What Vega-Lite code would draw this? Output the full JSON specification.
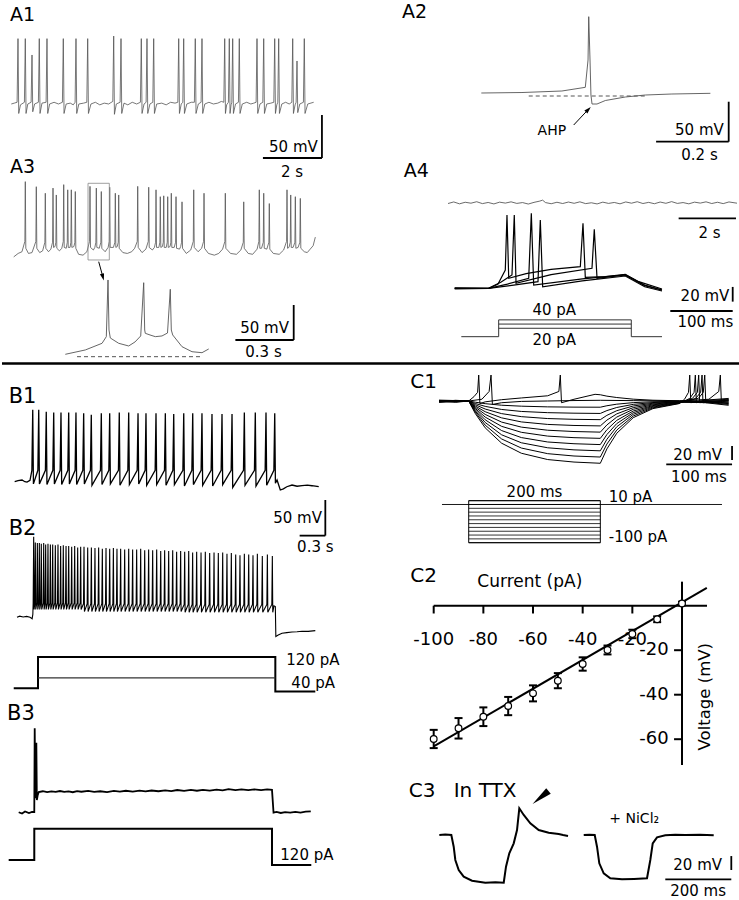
{
"$schema": "https://vega.github.io/schema/vega-lite/v6.json",
"padding": 0, "spacing": 0, "background": "white",
"config": {"view": {"stroke": null}, "axis": {"disable": true}, "text": {"font": "DejaVu Sans", "fontSize": 15, "color": "black", "baseline": "alphabetic"}, "rule": {"color": "black", "strokeWidth": 1.8}, "line": {"color": "black"}},
"vconcat": [
{"hconcat": [
 {"vconcat": [
  {"width": 369, "height": 178, "data": {"values": [{}]}, "layer": [
   {"data": {"values": [{"t":0,"v":-55},{"t":0.1,"v":-54},{"t":0.197,"v":-53},{"t":0.227,"v":21},{"t":0.252,"v":-66},{"t":0.31,"v":-56},{"t":0.445,"v":-53},{"t":0.475,"v":21},{"t":0.5,"v":-66},{"t":0.56,"v":-55},{"t":0.672,"v":-53},{"t":0.702,"v":2},{"t":0.727,"v":-64},{"t":0.79,"v":-55},{"t":0.919,"v":-53},{"t":0.949,"v":21},{"t":0.974,"v":-66},{"t":1.04,"v":-54},{"t":1.18,"v":-53},{"t":1.21,"v":21},{"t":1.235,"v":-66},{"t":1.3,"v":-55},{"t":1.45,"v":-53},{"t":1.6,"v":-55},{"t":1.733,"v":-53},{"t":1.763,"v":21},{"t":1.788,"v":-66},{"t":1.86,"v":-55},{"t":2.0,"v":-54},{"t":2.1,"v":-56},{"t":2.163,"v":-53},{"t":2.193,"v":21},{"t":2.218,"v":-66},{"t":2.29,"v":-55},{"t":2.45,"v":-54},{"t":2.56,"v":-53},{"t":2.59,"v":21},{"t":2.615,"v":-66},{"t":2.7,"v":-55},{"t":2.85,"v":-53},{"t":3.0,"v":-56},{"t":3.15,"v":-54},{"t":3.3,"v":-55},{"t":3.441,"v":-52},{"t":3.471,"v":24},{"t":3.496,"v":-67},{"t":3.56,"v":-55},{"t":3.689,"v":-53},{"t":3.719,"v":21},{"t":3.744,"v":-66},{"t":3.82,"v":-54},{"t":3.95,"v":-56},{"t":4.1,"v":-53},{"t":4.25,"v":-55},{"t":4.377,"v":-53},{"t":4.407,"v":21},{"t":4.432,"v":-66},{"t":4.5,"v":-55},{"t":4.57,"v":-53},{"t":4.6,"v":21},{"t":4.625,"v":-66},{"t":4.7,"v":-55},{"t":4.797,"v":-53},{"t":4.827,"v":21},{"t":4.852,"v":-66},{"t":4.93,"v":-55},{"t":5.1,"v":-54},{"t":5.25,"v":-56},{"t":5.4,"v":-53},{"t":5.55,"v":-54},{"t":5.645,"v":-53},{"t":5.675,"v":21},{"t":5.7,"v":-66},{"t":5.76,"v":-55},{"t":5.814,"v":-53},{"t":5.844,"v":21},{"t":5.869,"v":-66},{"t":5.95,"v":-55},{"t":6.1,"v":-53},{"t":6.207,"v":-53},{"t":6.237,"v":21},{"t":6.262,"v":-66},{"t":6.34,"v":-55},{"t":6.434,"v":-53},{"t":6.464,"v":21},{"t":6.489,"v":-66},{"t":6.56,"v":-55},{"t":6.7,"v":-53},{"t":6.85,"v":-55},{"t":7.0,"v":-54},{"t":7.12,"v":-52},{"t":7.204,"v":-53},{"t":7.234,"v":21},{"t":7.259,"v":-66},{"t":7.3,"v":-56},{"t":7.36,"v":-53},{"t":7.39,"v":21},{"t":7.415,"v":-66},{"t":7.45,"v":-56},{"t":7.475,"v":-53},{"t":7.505,"v":21},{"t":7.53,"v":-66},{"t":7.6,"v":-55},{"t":7.699,"v":-53},{"t":7.729,"v":21},{"t":7.754,"v":-66},{"t":7.83,"v":-55},{"t":7.98,"v":-53},{"t":8.12,"v":-55},{"t":8.22,"v":-54},{"t":8.299,"v":-53},{"t":8.329,"v":21},{"t":8.354,"v":-66},{"t":8.43,"v":-55},{"t":8.526,"v":-53},{"t":8.556,"v":21},{"t":8.581,"v":-66},{"t":8.66,"v":-55},{"t":8.8,"v":-54},{"t":8.899,"v":-53},{"t":8.929,"v":21},{"t":8.954,"v":-66},{"t":9.0,"v":-56},{"t":9.034,"v":-53},{"t":9.064,"v":21},{"t":9.089,"v":-66},{"t":9.17,"v":-55},{"t":9.3,"v":-53},{"t":9.42,"v":-55},{"t":9.509,"v":-53},{"t":9.539,"v":21},{"t":9.564,"v":-66},{"t":9.62,"v":-56},{"t":9.655,"v":-53},{"t":9.685,"v":-5},{"t":9.71,"v":-65},{"t":9.78,"v":-55},{"t":9.902,"v":-53},{"t":9.932,"v":21},{"t":9.957,"v":-66},{"t":10.05,"v":-55},{"t":10.25,"v":-53}]},
    "mark": {"type": "line", "color": "#555", "strokeWidth": 0.8},
    "encoding": {"x": {"field": "t", "type": "quantitative", "scale": {"domain": [-0.315, 12.193], "nice": false, "zero": false}}, "y": {"field": "v", "type": "quantitative", "scale": {"domain": [-141.05, 65.93], "nice": false, "zero": false}}}},
   {"mark": "rule", "encoding": {"x": {"datum": 10.53}, "y": {"datum": -67.8}, "y2": {"datum": -117.8}}},
   {"mark": "rule", "encoding": {"x": {"datum": 8.53}, "x2": {"datum": 10.53}, "y": {"datum": -117.8}}},
   {"mark": {"type": "text", "text": "50 mV", "align": "right"}, "encoding": {"x": {"datum": 10.39}, "y": {"datum": -110.4}}},
   {"mark": {"type": "text", "text": "2 s", "align": "center"}, "encoding": {"x": {"datum": 9.515}, "y": {"datum": -139.5}}},
   {"mark": {"type": "text", "text": "A1", "align": "left", "fontSize": 19}, "encoding": {"x": {"datum": -0.044}, "y": {"datum": 41.8}}}
  ]},
  {"width": 369, "height": 90, "data": {"values": [{}]}, "layer": [
   {"data": {"values": [{"t":0,"v":-66},{"t":0.15,"v":-62},{"t":0.28,"v":-60},{"t":0.378,"v":-48},{"t":0.393,"v":21.5},{"t":0.41,"v":-56},{"t":0.5,"v":-62},{"t":0.62,"v":-61},{"t":0.751,"v":-48},{"t":0.766,"v":15.6},{"t":0.783,"v":-56},{"t":0.88,"v":-61},{"t":0.98,"v":-59},{"t":1.056,"v":-49},{"t":1.071,"v":8},{"t":1.088,"v":-56},{"t":1.18,"v":-60},{"t":1.26,"v":-57},{"t":1.317,"v":-49},{"t":1.332,"v":14},{"t":1.349,"v":-55},{"t":1.4,"v":-54},{"t":1.429,"v":-49},{"t":1.444,"v":6},{"t":1.461,"v":-56},{"t":1.55,"v":-59},{"t":1.63,"v":-56},{"t":1.68,"v":-48},{"t":1.695,"v":18},{"t":1.712,"v":-55},{"t":1.78,"v":-56},{"t":1.816,"v":-49},{"t":1.831,"v":12},{"t":1.848,"v":-55},{"t":1.91,"v":-55},{"t":1.938,"v":-49},{"t":1.953,"v":12},{"t":1.97,"v":-55},{"t":2.04,"v":-54},{"t":2.073,"v":-49},{"t":2.088,"v":10},{"t":2.105,"v":-56},{"t":2.2,"v":-63},{"t":2.35,"v":-64},{"t":2.48,"v":-60},{"t":2.571,"v":-48},{"t":2.586,"v":16},{"t":2.603,"v":-55},{"t":2.7,"v":-58},{"t":2.75,"v":-55},{"t":2.785,"v":-49},{"t":2.8,"v":14},{"t":2.817,"v":-55},{"t":2.9,"v":-56},{"t":2.954,"v":-49},{"t":2.969,"v":10},{"t":2.986,"v":-56},{"t":3.1,"v":-60},{"t":3.2,"v":-55},{"t":3.239,"v":-48},{"t":3.254,"v":15},{"t":3.271,"v":-55},{"t":3.38,"v":-55},{"t":3.429,"v":-49},{"t":3.444,"v":8},{"t":3.461,"v":-55},{"t":3.51,"v":-54},{"t":3.544,"v":-49},{"t":3.559,"v":6},{"t":3.576,"v":-56},{"t":3.7,"v":-61},{"t":3.85,"v":-62},{"t":4.0,"v":-60},{"t":4.1,"v":-56},{"t":4.188,"v":-48},{"t":4.203,"v":16},{"t":4.22,"v":-55},{"t":4.35,"v":-61},{"t":4.48,"v":-57},{"t":4.561,"v":-48},{"t":4.576,"v":15},{"t":4.593,"v":-55},{"t":4.7,"v":-58},{"t":4.77,"v":-55},{"t":4.809,"v":-49},{"t":4.824,"v":12},{"t":4.841,"v":-55},{"t":4.92,"v":-55},{"t":4.954,"v":-49},{"t":4.969,"v":4},{"t":4.986,"v":-55},{"t":5.04,"v":-54},{"t":5.07,"v":-49},{"t":5.085,"v":5},{"t":5.102,"v":-55},{"t":5.17,"v":-55},{"t":5.205,"v":-49},{"t":5.22,"v":4},{"t":5.237,"v":-55},{"t":5.3,"v":-54},{"t":5.327,"v":-49},{"t":5.342,"v":8},{"t":5.359,"v":-55},{"t":5.44,"v":-55},{"t":5.487,"v":-49},{"t":5.502,"v":4},{"t":5.519,"v":-56},{"t":5.62,"v":-57},{"t":5.66,"v":-54},{"t":5.69,"v":-49},{"t":5.705,"v":-2},{"t":5.722,"v":-56},{"t":5.85,"v":-62},{"t":6.0,"v":-58},{"t":6.087,"v":-48},{"t":6.102,"v":12},{"t":6.119,"v":-55},{"t":6.25,"v":-60},{"t":6.37,"v":-56},{"t":6.436,"v":-48},{"t":6.451,"v":8},{"t":6.468,"v":-56},{"t":6.6,"v":-62},{"t":6.8,"v":-64},{"t":6.95,"v":-62},{"t":7.08,"v":-57},{"t":7.158,"v":-48},{"t":7.173,"v":8},{"t":7.19,"v":-56},{"t":7.35,"v":-62},{"t":7.55,"v":-63},{"t":7.7,"v":-58},{"t":7.782,"v":-49},{"t":7.797,"v":-2},{"t":7.814,"v":-56},{"t":7.95,"v":-62},{"t":8.1,"v":-63},{"t":8.25,"v":-57},{"t":8.31,"v":-48},{"t":8.325,"v":12},{"t":8.342,"v":-56},{"t":8.4,"v":-56},{"t":8.46,"v":-49},{"t":8.475,"v":8},{"t":8.492,"v":-56},{"t":8.58,"v":-57},{"t":8.649,"v":-49},{"t":8.664,"v":-4},{"t":8.681,"v":-57},{"t":8.8,"v":-62},{"t":9.0,"v":-63},{"t":9.15,"v":-58},{"t":9.249,"v":-48},{"t":9.264,"v":12},{"t":9.281,"v":-56},{"t":9.33,"v":-55},{"t":9.375,"v":-49},{"t":9.39,"v":6},{"t":9.407,"v":-55},{"t":9.47,"v":-55},{"t":9.531,"v":-49},{"t":9.546,"v":4},{"t":9.563,"v":-56},{"t":9.64,"v":-55},{"t":9.7,"v":-49},{"t":9.715,"v":2},{"t":9.732,"v":-56},{"t":9.85,"v":-60},{"t":9.95,"v":-61},{"t":10.05,"v":-57},{"t":10.15,"v":-53},{"t":10.224,"v":-43}]},
    "mark": {"type": "line", "color": "#555", "strokeWidth": 0.8},
    "encoding": {"x": {"field": "t", "type": "quantitative", "scale": {"domain": [-0.397, 12.111], "nice": false, "zero": false}}, "y": {"field": "v", "type": "quantitative", "scale": {"domain": [-78.93, 25.72], "nice": false, "zero": false}}}},
   {"mark": {"type": "rect", "fillOpacity": 0, "stroke": "#888", "strokeWidth": 0.8}, "encoding": {"x": {"datum": 2.519}, "x2": {"datum": 3.241}, "y": {"datum": 19.56}, "y2": {"datum": -69.6}}},
   {"mark": {"type": "text", "text": "A3", "align": "left", "fontSize": 19}, "encoding": {"x": {"datum": -0.125}, "y": {"datum": 31.5}}}
  ]},
  {"width": 369, "height": 94, "data": {"values": [{}]}, "layer": [
   {"data": {"values": [{"t":0,"v":-60},{"t":0.103,"v":-53.8},{"t":0.189,"v":-44.3},{"t":0.211,"v":-34.8},{"t":0.2197,"v":46.2},{"t":0.2248,"v":-25.3},{"t":0.2315,"v":-36.7},{"t":0.2747,"v":-44.3},{"t":0.326,"v":-48.1},{"t":0.3585,"v":-42.4},{"t":0.3879,"v":-33.8},{"t":0.4033,"v":42.3},{"t":0.4084,"v":-25.3},{"t":0.4115,"v":-30},{"t":0.4357,"v":-32.4},{"t":0.463,"v":-34.8},{"t":0.4974,"v":-33.8},{"t":0.5257,"v":-29.6},{"t":0.5401,"v":32.9},{"t":0.5453,"v":-25.3},{"t":0.5525,"v":-32.4},{"t":0.6003,"v":-49.1},{"t":0.6518,"v":-56.3},{"t":0.7032,"v":-57.7},{"t":0.7377,"v":-52.4}]},
    "mark": {"type": "line", "color": "#555", "strokeWidth": 0.9},
    "encoding": {"x": {"field": "t", "type": "quantitative", "scale": {"domain": [-0.3256, 1.5725], "nice": false, "zero": false}}, "y": {"field": "v", "type": "quantitative", "scale": {"domain": [-71, 63.3], "nice": false, "zero": false}}}},
   {"mark": {"type": "rule", "strokeDash": [4, 3], "color": "#555", "strokeWidth": 1}, "encoding": {"x": {"datum": 0.0602}, "x2": {"datum": 0.7032}, "y": {"datum": -63.4}}},
   {"mark": {"type": "rule", "strokeWidth": 1}, "encoding": {"x": {"datum": 0.1718}, "y": {"datum": 72.3}, "x2": {"datum": 0.1914}, "y2": {"datum": 52.6}}},
   {"mark": {"type": "point", "shape": "M0,-1L0.6,1L-0.6,1Z", "filled": true, "color": "black", "size": 50, "angle": 165, "opacity": 1}, "encoding": {"x": {"datum": 0.1934}, "y": {"datum": 50.3}}},
   {"mark": "rule", "encoding": {"x": {"datum": 1.1749}, "y": {"datum": 10.44}, "y2": {"datum": -39.56}}},
   {"mark": "rule", "encoding": {"x": {"datum": 0.8749}, "x2": {"datum": 1.1749}, "y": {"datum": -39.56}}},
   {"mark": {"type": "text", "text": "50 mV", "align": "right"}, "encoding": {"x": {"datum": 1.1507}, "y": {"datum": -30}}},
   {"mark": {"type": "text", "text": "0.3 s", "align": "center"}, "encoding": {"x": {"datum": 1.0196}, "y": {"datum": -63.4}}}
  ]}
 ], "spacing": 0, "bounds": "flush"},
 {"vconcat": [
  {"width": 370, "height": 165, "data": {"values": [{}]}, "layer": [
   {"data": {"values": [{"t":0,"v":-55},{"t":0.112,"v":-54.4},{"t":0.222,"v":-52.5},{"t":0.2865,"v":-47.9},{"t":0.294,"v":-13.75},{"t":0.2959,"v":40.4},{"t":0.2995,"v":-13.75},{"t":0.302,"v":-57.5},{"t":0.305,"v":-68.75},{"t":0.3187,"v":-68.75},{"t":0.3416,"v":-64.4},{"t":0.3967,"v":-60},{"t":0.4518,"v":-57.5},{"t":0.525,"v":-56.25},{"t":0.631,"v":-55.4}]},
    "mark": {"type": "line", "color": "#555", "strokeWidth": 0.9},
    "encoding": {"x": {"field": "t", "type": "quantitative", "scale": {"domain": [-0.3039, 0.7154], "nice": false, "zero": false}}, "y": {"field": "v", "type": "quantitative", "scale": {"domain": [-145, 61.25], "nice": false, "zero": false}}}},
   {"mark": {"type": "rule", "strokeDash": [4, 3], "color": "#555", "strokeWidth": 1}, "encoding": {"x": {"datum": 0.1306}, "x2": {"datum": 0.4518}, "y": {"datum": -58.75}}},
   {"mark": {"type": "text", "text": "AHP", "align": "left", "fontSize": 14}, "encoding": {"x": {"datum": 0.155}, "y": {"datum": -107.1}}},
   {"mark": {"type": "rule", "strokeWidth": 1}, "encoding": {"x": {"datum": 0.2545}, "y": {"datum": -95}, "x2": {"datum": 0.2928}, "y2": {"datum": -76.5}}},
   {"mark": {"type": "point", "shape": "M0,-1L0.6,1L-0.6,1Z", "filled": true, "color": "black", "size": 50, "angle": 43, "opacity": 1}, "encoding": {"x": {"datum": 0.2948}, "y": {"datum": -75.6}}},
   {"mark": "rule", "encoding": {"x": {"datum": 0.6815}, "y": {"datum": -65.9}, "y2": {"datum": -115.9}}},
   {"mark": "rule", "encoding": {"x": {"datum": 0.4815}, "x2": {"datum": 0.6815}, "y": {"datum": -115.9}}},
   {"mark": {"type": "text", "text": "50 mV", "align": "right"}, "encoding": {"x": {"datum": 0.668}, "y": {"datum": -107.5}}},
   {"mark": {"type": "text", "text": "0.2 s", "align": "center"}, "encoding": {"x": {"datum": 0.601}, "y": {"datum": -138.75}}},
   {"mark": {"type": "text", "text": "A2", "align": "left", "fontSize": 19}, "encoding": {"x": {"datum": -0.2185}, "y": {"datum": 38.4}}}
  ]},
  {"width": 370, "height": 70, "data": {"values": [{}]}, "layer": [
   {"data": {"values": [{"t":0,"v":-60.5},{"t":0.2,"v":-59},{"t":0.4,"v":-60.8},{"t":0.6,"v":-59.3},{"t":0.8,"v":-60.2},{"t":1.0,"v":-58.8},{"t":1.2,"v":-60.6},{"t":1.4,"v":-59.5},{"t":1.6,"v":-60.9},{"t":1.8,"v":-59.2},{"t":2.0,"v":-60.1},{"t":2.2,"v":-58.9},{"t":2.4,"v":-60.4},{"t":2.6,"v":-59.6},{"t":2.8,"v":-61},{"t":3.0,"v":-59.4},{"t":3.2,"v":-58.2},{"t":3.3,"v":-57.3},{"t":3.4,"v":-59.6},{"t":3.6,"v":-60.7},{"t":3.8,"v":-59.3},{"t":4.0,"v":-60.5},{"t":4.2,"v":-59.1},{"t":4.4,"v":-60.3},{"t":4.6,"v":-58.9},{"t":4.8,"v":-60.6},{"t":5.0,"v":-59.8},{"t":5.2,"v":-60.9},{"t":5.4,"v":-59.2},{"t":5.6,"v":-60.4},{"t":5.8,"v":-59.5},{"t":6.0,"v":-60.8},{"t":6.2,"v":-59},{"t":6.4,"v":-60.2},{"t":6.6,"v":-58.8},{"t":6.8,"v":-60.5},{"t":7.0,"v":-59.4},{"t":7.2,"v":-60.7},{"t":7.4,"v":-59.1},{"t":7.6,"v":-60.3},{"t":7.8,"v":-58.7},{"t":8.0,"v":-60.4},{"t":8.2,"v":-59.6},{"t":8.4,"v":-60.8},{"t":8.6,"v":-59.2},{"t":8.8,"v":-60.1},{"t":9.0,"v":-58.9},{"t":9.2,"v":-60.5},{"t":9.4,"v":-59.3},{"t":9.6,"v":-60.6},{"t":9.8,"v":-59},{"t":10.08,"v":-60.2}]},
    "mark": {"type": "line", "color": "#444", "strokeWidth": 0.8},
    "encoding": {"x": {"field": "t", "type": "quantitative", "scale": {"domain": [-2.686, 10.22], "nice": false, "zero": false}}, "y": {"field": "v", "type": "quantitative", "scale": {"domain": [-90.5, -23.8], "nice": false, "zero": false}}}},
   {"mark": "rule", "encoding": {"x": {"datum": 8.045}, "x2": {"datum": 10.045}, "y": {"datum": -74.6}}},
   {"mark": {"type": "text", "text": "2 s", "align": "center"}, "encoding": {"x": {"datum": 9.12}, "y": {"datum": -93.6}}},
   {"mark": {"type": "text", "text": "A4", "align": "left", "fontSize": 19}, "encoding": {"x": {"datum": -1.545}, "y": {"datum": -35.2}}}
  ]},
  {"width": 370, "height": 75, "data": {"values": [{}]}, "layer": [
   {"data": {"values": [
     {"s":"a","t":-54.5,"v":-60},{"s":"a","t":0,"v":-60},{"s":"a","t":15,"v":-56},{"s":"a","t":26.6,"v":-42.6},{"s":"a","t":29.3,"v":9.8},{"s":"a","t":32.1,"v":-50.5},{"s":"a","t":60,"v":-46},{"s":"a","t":100,"v":-42},{"s":"a","t":146.8,"v":-39.4},{"s":"a","t":151.1,"v":1.9},{"s":"a","t":154.8,"v":-49.5},{"s":"a","t":186.9,"v":-48.9},{"s":"a","t":218.9,"v":-46.7},{"s":"a","t":240.4,"v":-53.7},{"s":"a","t":277.7,"v":-60.7},
     {"s":"b","t":-54.5,"v":-60.5},{"s":"b","t":0,"v":-60},{"s":"b","t":20,"v":-54},{"s":"b","t":37.3,"v":-47.3},{"s":"b","t":41,"v":9.8},{"s":"b","t":43.8,"v":-55.2},{"s":"b","t":100,"v":-47},{"s":"b","t":165.5,"v":-40.9},{"s":"b","t":169.2,"v":-3.8},{"s":"b","t":173.6,"v":-50.5},{"s":"b","t":218.9,"v":-47.3},{"s":"b","t":250,"v":-57},{"s":"b","t":277.7,"v":-61.6},
     {"s":"c","t":-54.5,"v":-59.5},{"s":"c","t":0,"v":-60},{"s":"c","t":30,"v":-56},{"s":"c","t":64.1,"v":-50.5},{"s":"c","t":68.3,"v":11.4},{"s":"c","t":72.1,"v":-56.9},{"s":"c","t":150,"v":-51},{"s":"c","t":218.9,"v":-47.3},{"s":"c","t":250,"v":-57.5},{"s":"c","t":277.7,"v":-61.6},
     {"s":"d","t":-54.5,"v":-60},{"s":"d","t":0,"v":-60},{"s":"d","t":40,"v":-57},{"s":"d","t":79,"v":-53.7},{"s":"d","t":82.7,"v":5},{"s":"d","t":86.5,"v":-58.5},{"s":"d","t":150,"v":-53},{"s":"d","t":218.9,"v":-48.3},{"s":"d","t":250,"v":-58.5},{"s":"d","t":277.7,"v":-62.6}]},
    "mark": {"type": "line", "color": "black", "strokeWidth": 1.2},
    "encoding": {"detail": {"field": "s"}, "x": {"field": "t", "type": "quantitative", "scale": {"domain": [-188.6, 404.3], "nice": false, "zero": false}}, "y": {"field": "v", "type": "quantitative", "scale": {"domain": [-80.67, -9.24], "nice": false, "zero": false}}}},
   {"mark": "rule", "encoding": {"x": {"datum": 391}, "y": {"datum": -58.7}, "y2": {"datum": -72.7}}},
   {"mark": "rule", "encoding": {"x": {"datum": 291}, "x2": {"datum": 391}, "y": {"datum": -81.6}}},
   {"mark": {"type": "text", "text": "20 mV", "align": "right"}, "encoding": {"x": {"datum": 385.6}, "y": {"datum": -71.8}}},
   {"mark": {"type": "text", "text": "100 ms", "align": "center"}, "encoding": {"x": {"datum": 347.1}, "y": {"datum": -96.6}}}
  ]},
  {"width": 370, "height": 52, "data": {"values": [{}]}, "layer": [
   {"data": {"values": [{"s":"40","t":-43.9,"i":0},{"s":"40","t":16,"i":0},{"s":"40","t":16.01,"i":40},{"s":"40","t":228.5,"i":40},{"s":"40","t":228.51,"i":0},{"s":"40","t":277.7,"i":0},{"s":"30","t":16,"i":30},{"s":"30","t":228.5,"i":30},{"s":"20","t":16,"i":20},{"s":"20","t":228.5,"i":20}]},
    "mark": {"type": "line", "color": "#333", "strokeWidth": 1},
    "encoding": {"detail": {"field": "s"}, "x": {"field": "t", "type": "quantitative", "scale": {"domain": [-188.6, 404.3], "nice": false, "zero": false}}, "y": {"field": "i", "type": "quantitative", "scale": {"domain": [-60.3, 63.5], "nice": false, "zero": false}}}},
   {"mark": {"type": "text", "text": "40 pA", "align": "center"}, "encoding": {"x": {"datum": 105}, "y": {"datum": 51.6}}},
   {"mark": {"type": "text", "text": "20 pA", "align": "center"}, "encoding": {"x": {"datum": 105}, "y": {"datum": -19.8}}}
  ]}
 ], "spacing": 0, "bounds": "flush"}
], "spacing": 0},
{"width": 739, "height": 3, "data": {"values": [{}]}, "mark": {"type": "rule", "strokeWidth": 2.5, "color": "black"}, "encoding": {"y": {"datum": 0, "scale": {"domain": [-1, 1]}}}},
{"hconcat": [
 {"vconcat": [
  {"width": 369, "height": 130, "data": {"values": [{}]}, "layer": [
   {"data": {"values": [{"t":-0.179,"v":-60},{"t":-0.14,"v":-58.5},{"t":-0.093,"v":-57.6},{"t":-0.06,"v":-60},{"t":-0.035,"v":-60.5},{"t":0,"v":-58},{"t":0.022,"v":-44},{"t":0.032,"v":41},{"t":0.04,"v":-63},{"t":0.092,"v":-44},{"t":0.102,"v":41},{"t":0.11,"v":-63},{"t":0.18,"v":-44},{"t":0.19,"v":38},{"t":0.198,"v":-64},{"t":0.267,"v":-44},{"t":0.277,"v":37},{"t":0.285,"v":-63},{"t":0.352,"v":-44},{"t":0.362,"v":37},{"t":0.37,"v":-64},{"t":0.442,"v":-44},{"t":0.452,"v":37},{"t":0.46,"v":-63},{"t":0.527,"v":-44},{"t":0.537,"v":37},{"t":0.545,"v":-64},{"t":0.617,"v":-44},{"t":0.627,"v":36},{"t":0.635,"v":-63},{"t":0.706,"v":-44},{"t":0.716,"v":34},{"t":0.724,"v":-65},{"t":0.823,"v":-44},{"t":0.833,"v":36},{"t":0.841,"v":-64},{"t":0.921,"v":-44},{"t":0.931,"v":36},{"t":0.939,"v":-63},{"t":1.033,"v":-44},{"t":1.043,"v":37},{"t":1.051,"v":-65},{"t":1.143,"v":-44},{"t":1.153,"v":37},{"t":1.161,"v":-64},{"t":1.252,"v":-44},{"t":1.262,"v":36},{"t":1.27,"v":-63},{"t":1.345,"v":-44},{"t":1.355,"v":36},{"t":1.363,"v":-65},{"t":1.462,"v":-44},{"t":1.472,"v":36},{"t":1.48,"v":-64},{"t":1.571,"v":-44},{"t":1.581,"v":36},{"t":1.589,"v":-65},{"t":1.669,"v":-44},{"t":1.679,"v":35},{"t":1.687,"v":-64},{"t":1.786,"v":-44},{"t":1.796,"v":36},{"t":1.804,"v":-66},{"t":1.891,"v":-44},{"t":1.901,"v":36},{"t":1.909,"v":-64},{"t":1.999,"v":-44},{"t":2.009,"v":36},{"t":2.017,"v":-65},{"t":2.116,"v":-44},{"t":2.126,"v":35},{"t":2.134,"v":-66},{"t":2.233,"v":-44},{"t":2.243,"v":35},{"t":2.251,"v":-64},{"t":2.35,"v":-44},{"t":2.36,"v":35},{"t":2.368,"v":-68},{"t":2.494,"v":-44},{"t":2.504,"v":37},{"t":2.512,"v":-65},{"t":2.622,"v":-44},{"t":2.632,"v":37},{"t":2.64,"v":-66},{"t":2.747,"v":-44},{"t":2.757,"v":37},{"t":2.765,"v":-65},{"t":2.849,"v":-44},{"t":2.859,"v":36},{"t":2.867,"v":-62},{"t":2.886,"v":-57.6},{"t":2.924,"v":-71.6},{"t":2.96,"v":-70},{"t":3.0,"v":-67},{"t":3.061,"v":-64.6},{"t":3.12,"v":-66.3},{"t":3.178,"v":-65.5},{"t":3.24,"v":-64.8},{"t":3.294,"v":-65.6},{"t":3.373,"v":-67}]},
    "mark": {"type": "line", "color": "black", "strokeWidth": 1.3},
    "encoding": {"x": {"field": "t", "type": "quantitative", "scale": {"domain": [-0.3271, 3.9836], "nice": false, "zero": false}}, "y": {"field": "v", "type": "quantitative", "scale": {"domain": [-78.6, 103.7], "nice": false, "zero": false}}}},
   {"mark": {"type": "text", "text": "B1", "align": "left", "fontSize": 21}, "encoding": {"x": {"datum": -0.249}, "y": {"datum": 50}}}
  ]},
  {"width": 369, "height": 150, "data": {"values": [{}]}, "layer": [
   {"data": {"values": [{"t":-0.152,"v":-60},{"t":-0.12,"v":-58.5},{"t":-0.08,"v":-59.6},{"t":-0.04,"v":-58.8},{"t":0,"v":-60},{"t":0.025,"v":-62},{"t":0.033,"v":-56},
{"t":0.037,"v":-40},{"t":0.043,"v":53},{"t":0.048,"v":-49},{"t":0.056,"v":-40},{"t":0.062,"v":45},{"t":0.067,"v":-49},{"t":0.08,"v":-40},{"t":0.086,"v":44},{"t":0.091,"v":-49},{"t":0.103,"v":-40},{"t":0.109,"v":44},{"t":0.114,"v":-49},{"t":0.126,"v":-40},{"t":0.132,"v":43},{"t":0.137,"v":-49},{"t":0.154,"v":-40},{"t":0.16,"v":44},{"t":0.165,"v":-49},{"t":0.177,"v":-40},{"t":0.183,"v":42},{"t":0.188,"v":-49},{"t":0.204,"v":-40},{"t":0.21,"v":43},{"t":0.215,"v":-49},{"t":0.232,"v":-40},{"t":0.238,"v":42},{"t":0.243,"v":-49},{"t":0.259,"v":-40},{"t":0.265,"v":42},{"t":0.27,"v":-49},{"t":0.29,"v":-40},{"t":0.296,"v":41},{"t":0.301,"v":-49},{"t":0.321,"v":-40},{"t":0.327,"v":42},{"t":0.332,"v":-49},{"t":0.352,"v":-40},{"t":0.358,"v":40},{"t":0.363,"v":-49},{"t":0.383,"v":-40},{"t":0.389,"v":41},{"t":0.394,"v":-49},{"t":0.415,"v":-40},{"t":0.421,"v":40},{"t":0.426,"v":-49},{"t":0.446,"v":-40},{"t":0.452,"v":40},{"t":0.457,"v":-49},{"t":0.481,"v":-40},{"t":0.487,"v":39},{"t":0.492,"v":-49},{"t":0.516,"v":-40},{"t":0.522,"v":40},{"t":0.527,"v":-49},{"t":0.551,"v":-40},{"t":0.557,"v":38},{"t":0.562,"v":-49},{"t":0.586,"v":-40},{"t":0.592,"v":39},{"t":0.597,"v":-49},
{"t":0.625,"v":-41},{"t":0.631,"v":39},{"t":0.636,"v":-52},{"t":0.668,"v":-41},{"t":0.674,"v":38},{"t":0.679,"v":-52},{"t":0.711,"v":-41},{"t":0.717,"v":38},{"t":0.722,"v":-52},{"t":0.753,"v":-41},{"t":0.759,"v":37},{"t":0.764,"v":-52},{"t":0.796,"v":-41},{"t":0.802,"v":38},{"t":0.807,"v":-52},{"t":0.839,"v":-41},{"t":0.845,"v":36},{"t":0.85,"v":-52},{"t":0.882,"v":-41},{"t":0.888,"v":37},{"t":0.893,"v":-52},{"t":0.925,"v":-41},{"t":0.931,"v":36},{"t":0.936,"v":-52},{"t":0.968,"v":-41},{"t":0.974,"v":37},{"t":0.979,"v":-52},{"t":1.01,"v":-41},{"t":1.016,"v":36},{"t":1.021,"v":-52},{"t":1.053,"v":-41},{"t":1.059,"v":36},{"t":1.064,"v":-52},{"t":1.1,"v":-41},{"t":1.106,"v":35},{"t":1.111,"v":-52},{"t":1.147,"v":-41},{"t":1.153,"v":36},{"t":1.158,"v":-52},{"t":1.193,"v":-41},{"t":1.199,"v":35},{"t":1.204,"v":-52},{"t":1.24,"v":-41},{"t":1.246,"v":35},{"t":1.251,"v":-52},{"t":1.287,"v":-41},{"t":1.293,"v":36},{"t":1.298,"v":-52},{"t":1.334,"v":-41},{"t":1.34,"v":34},{"t":1.345,"v":-52},{"t":1.38,"v":-41},{"t":1.386,"v":35},{"t":1.391,"v":-52},{"t":1.427,"v":-41},{"t":1.433,"v":34},{"t":1.438,"v":-52},{"t":1.474,"v":-41},{"t":1.48,"v":35},{"t":1.485,"v":-52},{"t":1.521,"v":-41},{"t":1.527,"v":33},{"t":1.532,"v":-52},{"t":1.567,"v":-41},{"t":1.573,"v":34},{"t":1.578,"v":-52},{"t":1.614,"v":-41},{"t":1.62,"v":33},{"t":1.625,"v":-52},{"t":1.661,"v":-41},{"t":1.667,"v":34},{"t":1.672,"v":-52},{"t":1.707,"v":-41},{"t":1.713,"v":32},{"t":1.718,"v":-52},{"t":1.754,"v":-41},{"t":1.76,"v":33},{"t":1.765,"v":-52},
{"t":1.801,"v":-42},{"t":1.807,"v":32},{"t":1.812,"v":-53},{"t":1.848,"v":-42},{"t":1.854,"v":33},{"t":1.859,"v":-53},{"t":1.894,"v":-42},{"t":1.9,"v":31},{"t":1.905,"v":-53},{"t":1.941,"v":-42},{"t":1.947,"v":32},{"t":1.952,"v":-53},{"t":1.992,"v":-42},{"t":1.998,"v":31},{"t":2.003,"v":-53},{"t":2.042,"v":-42},{"t":2.048,"v":32},{"t":2.053,"v":-53},{"t":2.093,"v":-42},{"t":2.099,"v":30},{"t":2.104,"v":-53},{"t":2.144,"v":-42},{"t":2.15,"v":31},{"t":2.155,"v":-53},{"t":2.194,"v":-42},{"t":2.2,"v":30},{"t":2.205,"v":-53},{"t":2.245,"v":-42},{"t":2.251,"v":31},{"t":2.256,"v":-53},{"t":2.295,"v":-42},{"t":2.301,"v":29},{"t":2.306,"v":-53},{"t":2.346,"v":-42},{"t":2.352,"v":30},{"t":2.357,"v":-53},{"t":2.397,"v":-42},{"t":2.403,"v":28},{"t":2.408,"v":-53},{"t":2.447,"v":-42},{"t":2.453,"v":27},{"t":2.458,"v":-53},{"t":2.498,"v":-42},{"t":2.504,"v":29},{"t":2.509,"v":-53},{"t":2.549,"v":-42},{"t":2.555,"v":28},{"t":2.56,"v":-53},{"t":2.599,"v":-42},{"t":2.605,"v":27},{"t":2.61,"v":-53},{"t":2.65,"v":-42},{"t":2.656,"v":29},{"t":2.661,"v":-53},{"t":2.708,"v":-42},{"t":2.714,"v":26},{"t":2.719,"v":-53},{"t":2.767,"v":-42},{"t":2.773,"v":28},{"t":2.778,"v":-53},{"t":2.825,"v":-42},{"t":2.831,"v":26},{"t":2.836,"v":-53},
{"t":2.85,"v":-44},{"t":2.866,"v":-45},{"t":2.872,"v":-87},{"t":2.9,"v":-85},{"t":2.944,"v":-82.5},{"t":3.0,"v":-81.5},{"t":3.061,"v":-80.6},{"t":3.12,"v":-80.3},{"t":3.178,"v":-79.6},{"t":3.25,"v":-79.8},{"t":3.333,"v":-78.8}]},
    "mark": {"type": "line", "color": "black", "strokeWidth": 1.1},
    "encoding": {"x": {"field": "t", "type": "quantitative", "scale": {"domain": [-0.3271, 3.9836], "nice": false, "zero": false}}, "y": {"field": "v", "type": "quantitative", "scale": {"domain": [-98.9, 111.5], "nice": false, "zero": false}}}},
   {"mark": "rule", "encoding": {"x": {"datum": 3.45}, "y": {"datum": 104.5}, "y2": {"datum": 54.5}}},
   {"mark": "rule", "encoding": {"x": {"datum": 3.15}, "x2": {"datum": 3.45}, "y": {"datum": 54.5}}},
   {"mark": {"type": "text", "text": "50 mV", "align": "right"}, "encoding": {"x": {"datum": 3.411}, "y": {"datum": 71.8}}},
   {"mark": {"type": "text", "text": "0.3 s", "align": "center"}, "encoding": {"x": {"datum": 3.333}, "y": {"datum": 32}}},
   {"mark": {"type": "text", "text": "B2", "align": "left", "fontSize": 21}, "encoding": {"x": {"datum": -0.249}, "y": {"datum": 55.4}}}
  ]},
  {"width": 369, "height": 55, "data": {"values": [{}]}, "layer": [
   {"data": {"values": [{"t":-0.19,"i":0},{"t":0.0935,"i":0},{"t":0.0936,"i":120},{"t":2.866,"i":120},{"t":2.8661,"i":-12},{"t":3.333,"i":-12}]},
    "mark": {"type": "line", "color": "black", "strokeWidth": 2},
    "encoding": {"x": {"field": "t", "type": "quantitative", "scale": {"domain": [-0.3271, 3.9836], "nice": false, "zero": false}}, "y": {"field": "i", "type": "quantitative", "scale": {"domain": [-45, 166.5], "nice": false, "zero": false}}}},
   {"data": {"values": [{"t":0.0935,"i":40},{"t":2.866,"i":40}]}, "mark": {"type": "line", "color": "#333", "strokeWidth": 1.2}, "encoding": {"x": {"field": "t", "type": "quantitative"}, "y": {"field": "i", "type": "quantitative"}}},
   {"mark": {"type": "text", "text": "120 pA", "align": "left"}, "encoding": {"x": {"datum": 2.994}, "y": {"datum": 89.6}}},
   {"mark": {"type": "text", "text": "40 pA", "align": "left"}, "encoding": {"x": {"datum": 3.053}, "y": {"datum": 0}}}
  ]},
  {"width": 369, "height": 140, "data": {"values": [{}]}, "layer": [
   {"data": {"values": [{"t":-0.132,"v":-60},{"t":-0.093,"v":-61.7},{"t":-0.058,"v":-58.9},{"t":-0.012,"v":-61},{"t":0.023,"v":-59.6},{"t":0.05,"v":-59.6},{"t":0.055,"v":57.8},{"t":0.062,"v":-35.7},{"t":0.068,"v":-40},{"t":0.074,"v":37.6},{"t":0.08,"v":-42.8},{"t":0.09,"v":-36},{"t":0.102,"v":-31.6},{"t":0.15,"v":-30.5},{"t":0.2,"v":-31.8},{"t":0.25,"v":-30.6},{"t":0.3,"v":-31.4},{"t":0.35,"v":-30.2},{"t":0.4,"v":-31.5},{"t":0.45,"v":-30.8},{"t":0.5,"v":-31.9},{"t":0.55,"v":-30.4},{"t":0.6,"v":-31.2},{"t":0.68,"v":-30},{"t":0.75,"v":-31.3},{"t":0.82,"v":-30.5},{"t":0.9,"v":-31.6},{"t":0.98,"v":-30.1},{"t":1.05,"v":-31},{"t":1.12,"v":-29.8},{"t":1.2,"v":-30.9},{"t":1.28,"v":-29.6},{"t":1.35,"v":-30.7},{"t":1.42,"v":-29.5},{"t":1.5,"v":-30.5},{"t":1.58,"v":-29.3},{"t":1.65,"v":-30.2},{"t":1.72,"v":-28.8},{"t":1.8,"v":-30},{"t":1.88,"v":-28.6},{"t":1.95,"v":-29.8},{"t":2.02,"v":-28.5},{"t":2.1,"v":-29.6},{"t":2.18,"v":-28.2},{"t":2.25,"v":-29.4},{"t":2.32,"v":-27.5},{"t":2.4,"v":-28.9},{"t":2.47,"v":-28},{"t":2.55,"v":-29},{"t":2.62,"v":-27.8},{"t":2.7,"v":-28.8},{"t":2.77,"v":-28},{"t":2.827,"v":-28.6},{"t":2.845,"v":-60.5},{"t":2.88,"v":-59.5},{"t":2.93,"v":-61},{"t":2.98,"v":-59.8},{"t":3.04,"v":-60.6},{"t":3.1,"v":-59.4},{"t":3.16,"v":-60.4},{"t":3.22,"v":-59.1},{"t":3.28,"v":-58.6}]},
    "mark": {"type": "line", "color": "black", "strokeWidth": 1.8},
    "encoding": {"x": {"field": "t", "type": "quantitative", "scale": {"domain": [-0.3271, 3.9836], "nice": false, "zero": false}}, "y": {"field": "v", "type": "quantitative", "scale": {"domain": [-98.9, 97.5], "nice": false, "zero": false}}}},
   {"mark": {"type": "text", "text": "B3", "align": "left", "fontSize": 21}, "encoding": {"x": {"datum": -0.269}, "y": {"datum": 69.5}}}
  ]},
  {"width": 369, "height": 60, "data": {"values": [{}]}, "layer": [
   {"data": {"values": [{"t":-0.249,"i":0},{"t":0.05,"i":0},{"t":0.0501,"i":120},{"t":2.827,"i":120},{"t":2.8271,"i":-19},{"t":3.286,"i":-19}]},
    "mark": {"type": "line", "color": "black", "strokeWidth": 2},
    "encoding": {"x": {"field": "t", "type": "quantitative", "scale": {"domain": [-0.3271, 3.9836], "nice": false, "zero": false}}, "y": {"field": "i", "type": "quantitative", "scale": {"domain": [-153.9, 76.9], "nice": false, "zero": false}}}},
   {"mark": {"type": "text", "text": "120 pA", "align": "left"}, "encoding": {"x": {"datum": 2.924}, "y": {"datum": 0}}}
  ]}
 ], "spacing": 0, "bounds": "flush"},
 {"vconcat": [
  {"width": 370, "height": 125, "data": {"values": [{}]}, "layer": [
   {"data": {"values": [
{"s":-100,"t":-45,"v":-61},{"s":-100,"t":-20,"v":-60.5},{"s":-100,"t":0,"v":-60},{"s":-100,"t":10,"v":-74.5},{"s":-100,"t":25,"v":-91},{"s":-100,"t":50,"v":-108.8},{"s":-100,"t":80,"v":-120.4},{"s":-100,"t":120,"v":-127.7},{"s":-100,"t":160,"v":-130.6},{"s":-100,"t":200,"v":-132},{"s":-100,"t":210,"v":-115.4},{"s":-100,"t":225,"v":-97.3},{"s":-100,"t":250,"v":-79.3},{"s":-100,"t":280,"v":-68.8},{"s":-100,"t":320,"v":-63},{"s":-100,"t":328,"v":-58},{"s":-100,"t":334,"v":-50},{"s":-100,"t":335.9,"v":-30},{"s":-100,"t":337.5,"v":-62},{"s":-100,"t":360,"v":-59},{"s":-100,"t":395,"v":-57},
{"s":-90,"t":-45,"v":-59.5},{"s":-90,"t":-20,"v":-60},{"s":-90,"t":0,"v":-60},{"s":-90,"t":10,"v":-73},{"s":-90,"t":25,"v":-87.9},{"s":-90,"t":50,"v":-103.9},{"s":-90,"t":80,"v":-114.4},{"s":-90,"t":120,"v":-120.9},{"s":-90,"t":160,"v":-123.6},{"s":-90,"t":200,"v":-124.8},{"s":-90,"t":210,"v":-109.8},{"s":-90,"t":225,"v":-93.6},{"s":-90,"t":250,"v":-77.4},{"s":-90,"t":280,"v":-67.9},{"s":-90,"t":320,"v":-62.7},{"s":-90,"t":336,"v":-57},{"s":-90,"t":342.5,"v":-50},{"s":-90,"t":344.4,"v":-30},{"s":-90,"t":346,"v":-62},{"s":-90,"t":360,"v":-59.5},{"s":-90,"t":395,"v":-58},
{"s":-80,"t":-45,"v":-60.5},{"s":-80,"t":-20,"v":-61},{"s":-80,"t":0,"v":-60},{"s":-80,"t":10,"v":-71.6},{"s":-80,"t":25,"v":-84.8},{"s":-80,"t":50,"v":-99.1},{"s":-80,"t":80,"v":-108.3},{"s":-80,"t":120,"v":-114.1},{"s":-80,"t":160,"v":-116.5},{"s":-80,"t":200,"v":-117.6},{"s":-80,"t":210,"v":-104.3},{"s":-80,"t":225,"v":-89.8},{"s":-80,"t":250,"v":-75.4},{"s":-80,"t":280,"v":-67},{"s":-80,"t":320,"v":-62.4},{"s":-80,"t":340,"v":-57},{"s":-80,"t":347.5,"v":-50},{"s":-80,"t":349.5,"v":-30},{"s":-80,"t":351,"v":-62},{"s":-80,"t":365,"v":-60.5},{"s":-80,"t":395,"v":-59},
{"s":-70,"t":-45,"v":-59},{"s":-70,"t":-20,"v":-59.5},{"s":-70,"t":0,"v":-60},{"s":-70,"t":10,"v":-70.1},{"s":-70,"t":25,"v":-81.7},{"s":-70,"t":50,"v":-94.2},{"s":-70,"t":80,"v":-102.3},{"s":-70,"t":120,"v":-107.4},{"s":-70,"t":160,"v":-109.4},{"s":-70,"t":200,"v":-110.4},{"s":-70,"t":210,"v":-98.8},{"s":-70,"t":225,"v":-86.1},{"s":-70,"t":250,"v":-73.5},{"s":-70,"t":280,"v":-66.1},{"s":-70,"t":320,"v":-62.1},{"s":-70,"t":345,"v":-57},{"s":-70,"t":352.5,"v":-50},{"s":-70,"t":354.6,"v":-30},{"s":-70,"t":356,"v":-62},{"s":-70,"t":370,"v":-61},{"s":-70,"t":395,"v":-60},
{"s":-60,"t":-45,"v":-61.5},{"s":-60,"t":-20,"v":-60.5},{"s":-60,"t":0,"v":-60},{"s":-60,"t":10,"v":-68.7},{"s":-60,"t":25,"v":-78.6},{"s":-60,"t":50,"v":-89.3},{"s":-60,"t":80,"v":-96.2},{"s":-60,"t":120,"v":-100.6},{"s":-60,"t":160,"v":-102.4},{"s":-60,"t":200,"v":-103.2},{"s":-60,"t":210,"v":-93.2},{"s":-60,"t":225,"v":-82.4},{"s":-60,"t":250,"v":-71.6},{"s":-60,"t":280,"v":-65.3},{"s":-60,"t":320,"v":-61.8},{"s":-60,"t":349,"v":-57},{"s":-60,"t":356.5,"v":-50},{"s":-60,"t":358.7,"v":-30},{"s":-60,"t":360.3,"v":-62},{"s":-60,"t":375,"v":-61.5},{"s":-60,"t":395,"v":-61},
{"s":-50,"t":-45,"v":-60},{"s":-50,"t":-20,"v":-61.5},{"s":-50,"t":0,"v":-60},{"s":-50,"t":10,"v":-67.2},{"s":-50,"t":25,"v":-75.5},{"s":-50,"t":50,"v":-84.4},{"s":-50,"t":80,"v":-90.2},{"s":-50,"t":120,"v":-93.8},{"s":-50,"t":160,"v":-95.3},{"s":-50,"t":200,"v":-96},{"s":-50,"t":210,"v":-87.7},{"s":-50,"t":225,"v":-78.6},{"s":-50,"t":250,"v":-69.6},{"s":-50,"t":280,"v":-64.4},{"s":-50,"t":320,"v":-61.5},{"s":-50,"t":360,"v":-61},{"s":-50,"t":395,"v":-63},
{"s":-40,"t":-45,"v":-60.8},{"s":-40,"t":-20,"v":-59.2},{"s":-40,"t":0,"v":-60},{"s":-40,"t":10,"v":-65.8},{"s":-40,"t":25,"v":-72.4},{"s":-40,"t":50,"v":-79.5},{"s":-40,"t":80,"v":-84.2},{"s":-40,"t":120,"v":-87.1},{"s":-40,"t":160,"v":-88.3},{"s":-40,"t":200,"v":-88.8},{"s":-40,"t":210,"v":-82.1},{"s":-40,"t":225,"v":-74.9},{"s":-40,"t":250,"v":-67.7},{"s":-40,"t":280,"v":-63.5},{"s":-40,"t":320,"v":-61.2},{"s":-40,"t":360,"v":-61.5},{"s":-40,"t":395,"v":-64},
{"s":-30,"t":-45,"v":-59.3},{"s":-30,"t":-20,"v":-60.8},{"s":-30,"t":0,"v":-60},{"s":-30,"t":10,"v":-64.3},{"s":-30,"t":25,"v":-69.3},{"s":-30,"t":50,"v":-74.6},{"s":-30,"t":80,"v":-78.1},{"s":-30,"t":120,"v":-80.3},{"s":-30,"t":160,"v":-81.2},{"s":-30,"t":200,"v":-81.6},{"s":-30,"t":210,"v":-76.6},{"s":-30,"t":225,"v":-71.2},{"s":-30,"t":250,"v":-65.8},{"s":-30,"t":280,"v":-62.6},{"s":-30,"t":320,"v":-61},{"s":-30,"t":360,"v":-62},{"s":-30,"t":395,"v":-65},
{"s":-20,"t":-45,"v":-61.2},{"s":-20,"t":-20,"v":-59.8},{"s":-20,"t":0,"v":-60},{"s":-20,"t":10,"v":-62.9},{"s":-20,"t":25,"v":-66.2},{"s":-20,"t":50,"v":-69.8},{"s":-20,"t":80,"v":-72.1},{"s":-20,"t":120,"v":-73.5},{"s":-20,"t":160,"v":-74.1},{"s":-20,"t":200,"v":-74.4},{"s":-20,"t":210,"v":-71.1},{"s":-20,"t":225,"v":-67.5},{"s":-20,"t":250,"v":-63.9},{"s":-20,"t":280,"v":-61.8},{"s":-20,"t":320,"v":-60.8},{"s":-20,"t":360,"v":-61},{"s":-20,"t":395,"v":-62.5},
{"s":-10,"t":-45,"v":-60.2},{"s":-10,"t":-20,"v":-60.6},{"s":-10,"t":0,"v":-60},{"s":-10,"t":10,"v":-61.4},{"s":-10,"t":25,"v":-63.1},{"s":-10,"t":50,"v":-64.9},{"s":-10,"t":80,"v":-66},{"s":-10,"t":120,"v":-66.8},{"s":-10,"t":160,"v":-67.1},{"s":-10,"t":200,"v":-67.2},{"s":-10,"t":210,"v":-65.5},{"s":-10,"t":225,"v":-63.7},{"s":-10,"t":250,"v":-61.9},{"s":-10,"t":280,"v":-60.9},{"s":-10,"t":320,"v":-60.3},{"s":-10,"t":360,"v":-60.5},{"s":-10,"t":395,"v":-61.5},
{"s":0,"t":-45,"v":-59.6},{"s":0,"t":-20,"v":-60.3},{"s":0,"t":0,"v":-60},{"s":0,"t":20,"v":-58},{"s":0,"t":31,"v":-49},{"s":0,"t":33.9,"v":-30},{"s":0,"t":36,"v":-64},{"s":0,"t":50,"v":-62},{"s":0,"t":80,"v":-60.5},{"s":0,"t":120,"v":-60},{"s":0,"t":160,"v":-59.5},{"s":0,"t":200,"v":-59.2},{"s":0,"t":250,"v":-59.6},{"s":0,"t":320,"v":-60},{"s":0,"t":365,"v":-58},{"s":0,"t":380,"v":-49},{"s":0,"t":382.4,"v":-30},{"s":0,"t":384,"v":-62},{"s":0,"t":395,"v":-58},
{"s":10,"t":-45,"v":-60.5},{"s":10,"t":-20,"v":-60},{"s":10,"t":0,"v":-60},{"s":10,"t":8,"v":-55},{"s":10,"t":13.5,"v":-50},{"s":10,"t":15.2,"v":-30},{"s":10,"t":17,"v":-63},{"s":10,"t":25,"v":-61},{"s":10,"t":50,"v":-58.5},{"s":10,"t":80,"v":-56.5},{"s":10,"t":120,"v":-54},{"s":10,"t":137,"v":-49},{"s":10,"t":139.2,"v":-30},{"s":10,"t":141,"v":-62},{"s":10,"t":160,"v":-58},{"s":10,"t":192,"v":-52.3},{"s":10,"t":200,"v":-52.8},{"s":10,"t":210,"v":-54.4},{"s":10,"t":225,"v":-56},{"s":10,"t":250,"v":-57.9},{"s":10,"t":280,"v":-59.1},{"s":10,"t":320,"v":-59.7},{"s":10,"t":360,"v":-60},{"s":10,"t":395,"v":-59.5}]},
    "mark": {"type": "line", "color": "black", "strokeWidth": 1},
    "encoding": {"detail": {"field": "s"}, "x": {"field": "t", "type": "quantitative", "scale": {"domain": [-148.5, 413.8], "nice": false, "zero": false}}, "y": {"field": "v", "type": "quantitative", "scale": {"domain": [-162.9, -18.4], "nice": false, "zero": false}}}},
   {"mark": "rule", "encoding": {"x": {"datum": 400.2}, "y": {"datum": -112}, "y2": {"datum": -128.2}}},
   {"mark": "rule", "encoding": {"x": {"datum": 300.2}, "x2": {"datum": 400.2}, "y": {"datum": -133.2}}},
   {"mark": {"type": "text", "text": "20 mV", "align": "right"}, "encoding": {"x": {"datum": 385}, "y": {"datum": -128.2}}},
   {"mark": {"type": "text", "text": "100 ms", "align": "center"}, "encoding": {"x": {"datum": 350}, "y": {"datum": -153.3}}},
   {"mark": {"type": "text", "text": "C1", "align": "left", "fontSize": 20}, "encoding": {"x": {"datum": -88.8}, "y": {"datum": -45.3}}}
  ]},
  {"width": 370, "height": 70, "data": {"values": [{}]}, "layer": [
   {"data": {"values": [{"i":10},{"i":0},{"i":-10},{"i":-20},{"i":-30},{"i":-40},{"i":-50},{"i":-60},{"i":-70},{"i":-80},{"i":-90},{"i":-100}]},
    "mark": {"type": "rule", "strokeWidth": 0.8},
    "encoding": {"x": {"datum": 0, "scale": {"domain": [-148.5, 413.8], "nice": false, "zero": false}}, "x2": {"datum": 200}, "y": {"field": "i", "type": "quantitative", "scale": {"domain": [-145.3, 37.96], "nice": false, "zero": false}}}},
   {"mark": {"type": "rule", "strokeWidth": 0.9}, "encoding": {"x": {"datum": -40.6}, "x2": {"datum": 384.9}, "y": {"datum": 0}}},
   {"mark": {"type": "rect", "fillOpacity": 0, "stroke": "black", "strokeWidth": 1}, "encoding": {"x": {"datum": 0}, "x2": {"datum": 200}, "y": {"datum": 10}, "y2": {"datum": -100}}},
   {"mark": {"type": "text", "text": "200 ms", "align": "center"}, "encoding": {"x": {"datum": 100}, "y": {"datum": 20.4}}},
   {"mark": {"type": "text", "text": "10 pA", "align": "left"}, "encoding": {"x": {"datum": 212.8}, "y": {"datum": 7.3}}},
   {"mark": {"type": "text", "text": "-100 pA", "align": "left"}, "encoding": {"x": {"datum": 212.8}, "y": {"datum": -97.4}}}
  ]},
  {"width": 370, "height": 210, "data": {"values": [{}]}, "layer": [
   {"data": {"values": [{"I":-100,"V":-63.2},{"I":10,"V":8}]},
    "mark": {"type": "line", "color": "black", "strokeWidth": 2},
    "encoding": {"x": {"field": "I", "type": "quantitative", "scale": {"domain": [-125.25, 23.76], "nice": false, "zero": false}}, "y": {"field": "V", "type": "quantitative", "scale": {"domain": [-73.84, 20.54], "nice": false, "zero": false}}}},
   {"mark": {"type": "rule", "strokeWidth": 2}, "encoding": {"x": {"datum": -100}, "x2": {"datum": 10.07}, "y": {"datum": 0}}},
   {"mark": {"type": "rule", "strokeWidth": 2}, "encoding": {"x": {"datum": 0}, "y": {"datum": 10.8}, "y2": {"datum": -71.6}}},
   {"data": {"values": [{"I":-100,"lab":"-100"},{"I":-80,"lab":"-80"},{"I":-60,"lab":"-60"},{"I":-40,"lab":"-40"},{"I":-20,"lab":"-20"},{"I":0,"lab":""}]},
    "layer": [
     {"mark": {"type": "rule", "strokeWidth": 2}, "encoding": {"x": {"field": "I", "type": "quantitative"}, "y": {"datum": 0}, "y2": {"datum": -3.5}}},
     {"mark": {"type": "text", "align": "center", "fontSize": 18}, "encoding": {"x": {"field": "I", "type": "quantitative"}, "y": {"datum": -17.66}, "text": {"field": "lab"}}}
    ]},
   {"data": {"values": [{"V":-20,"lab":"-20"},{"V":-40,"lab":"-40"},{"V":-60,"lab":"-60"}]},
    "layer": [
     {"mark": {"type": "rule", "strokeWidth": 2}, "encoding": {"y": {"field": "V", "type": "quantitative"}, "x": {"datum": 0}, "x2": {"datum": -3.2}}},
     {"mark": {"type": "text", "align": "right", "baseline": "middle", "fontSize": 18}, "encoding": {"y": {"field": "V", "type": "quantitative"}, "x": {"datum": -5.36}, "text": {"field": "lab"}}}
    ]},
   {"data": {"values": [{"I":-100,"V":-59.9,"lo":-64,"hi":-55.8},{"I":-90,"V":-55.1,"lo":-59.7,"hi":-50.5},{"I":-80,"V":-49.9,"lo":-54.1,"hi":-45.7},{"I":-70,"V":-45.1,"lo":-49.2,"hi":-41},{"I":-60,"V":-39.4,"lo":-43,"hi":-35.8},{"I":-50,"V":-33.7,"lo":-37.1,"hi":-30.3},{"I":-40,"V":-26.2,"lo":-29.2,"hi":-23.2},{"I":-30,"V":-19.9,"lo":-21.9,"hi":-17.9},{"I":-20,"V":-12.7,"lo":-14.6,"hi":-10.8},{"I":-10,"V":-6.1,"lo":-7.4,"hi":-4.8},{"I":0,"V":1,"lo":0.2,"hi":1.8}]},
    "layer": [
     {"mark": {"type": "rule", "strokeWidth": 2}, "encoding": {"x": {"field": "I", "type": "quantitative"}, "y": {"field": "lo", "type": "quantitative"}, "y2": {"field": "hi"}}},
     {"mark": {"type": "point", "shape": "stroke", "size": 64, "strokeWidth": 2, "color": "black", "opacity": 1}, "encoding": {"x": {"field": "I", "type": "quantitative"}, "y": {"field": "lo", "type": "quantitative"}}},
     {"mark": {"type": "point", "shape": "stroke", "size": 64, "strokeWidth": 2, "color": "black", "opacity": 1}, "encoding": {"x": {"field": "I", "type": "quantitative"}, "y": {"field": "hi", "type": "quantitative"}}},
     {"mark": {"type": "point", "shape": "circle", "size": 45, "strokeWidth": 1.2, "color": "black", "fill": "white", "filled": false, "opacity": 1}, "encoding": {"x": {"field": "I", "type": "quantitative"}, "y": {"field": "V", "type": "quantitative"}}}
    ]},
   {"mark": {"type": "text", "text": "Current (pA)", "align": "center", "fontSize": 17}, "encoding": {"x": {"datum": -61.3}, "y": {"datum": 8.54}}},
   {"mark": {"type": "text", "text": "Voltage (mV)", "align": "center", "baseline": "middle", "angle": 270, "fontSize": 16.5}, "encoding": {"x": {"datum": 9.38}, "y": {"datum": -40.9}}},
   {"mark": {"type": "text", "text": "C2", "align": "left", "fontSize": 20}, "encoding": {"x": {"datum": -109.4}, "y": {"datum": 10.8}}}
  ]},
  {"width": 370, "height": 130, "data": {"values": [{}]}, "layer": [
   {"data": {"values": [
{"s":"ttx","t":0,"v":-60},{"s":"ttx","t":18,"v":-59.3},{"s":"ttx","t":36.4,"v":-60},{"s":"ttx","t":43.6,"v":-80},{"s":"ttx","t":48.5,"v":-102.7},{"s":"ttx","t":58.8,"v":-119.8},{"s":"ttx","t":73.9,"v":-131.3},{"s":"ttx","t":99.1,"v":-138.1},{"s":"ttx","t":139.4,"v":-141.6},{"s":"ttx","t":170,"v":-140.8},{"s":"ttx","t":195.2,"v":-141.6},{"s":"ttx","t":202.1,"v":-114.2},{"s":"ttx","t":212.1,"v":-91.3},{"s":"ttx","t":225.5,"v":-74.2},{"s":"ttx","t":235.5,"v":-51.5},{"s":"ttx","t":242.4,"v":-14.4},{"s":"ttx","t":255.8,"v":-25.8},{"s":"ttx","t":275.8,"v":-40},{"s":"ttx","t":301.2,"v":-51.5},{"s":"ttx","t":331.5,"v":-56.1},{"s":"ttx","t":361.8,"v":-58.2},{"s":"ttx","t":375,"v":-60},{"s":"ttx","t":390,"v":-61.7},
{"s":"ni","t":437.6,"v":-60},{"s":"ni","t":455,"v":-59.4},{"s":"ni","t":470.9,"v":-60},{"s":"ni","t":477.9,"v":-80},{"s":"ni","t":484.8,"v":-108.4},{"s":"ni","t":498.2,"v":-125.5},{"s":"ni","t":518.2,"v":-134},{"s":"ni","t":553.6,"v":-135.7},{"s":"ni","t":590,"v":-135},{"s":"ni","t":629.4,"v":-134},{"s":"ni","t":639.4,"v":-102.7},{"s":"ni","t":646.7,"v":-74.2},{"s":"ni","t":659.7,"v":-64},{"s":"ni","t":684.8,"v":-60.5},{"s":"ni","t":715,"v":-59.7},{"s":"ni","t":745.5,"v":-60},{"s":"ni","t":790,"v":-59.4},{"s":"ni","t":831.5,"v":-60.5}]},
    "mark": {"type": "line", "color": "black", "strokeWidth": 2},
    "encoding": {"detail": {"field": "s"}, "x": {"field": "t", "type": "quantitative", "scale": {"domain": [-207, 914.2], "nice": false, "zero": false}}, "y": {"field": "v", "type": "quantitative", "scale": {"domain": [-171.1, 51.1], "nice": false, "zero": false}}}},
   {"mark": "rule", "encoding": {"x": {"datum": 884.8}, "y": {"datum": -96}, "y2": {"datum": -119.8}}},
   {"mark": "rule", "encoding": {"x": {"datum": 684.8}, "x2": {"datum": 884.8}, "y": {"datum": -135.7}}},
   {"mark": {"type": "text", "text": "20 mV", "align": "right"}, "encoding": {"x": {"datum": 856.7}, "y": {"datum": -119.8}}},
   {"mark": {"type": "text", "text": "200 ms", "align": "center"}, "encoding": {"x": {"datum": 784}, "y": {"datum": -164}}},
   {"mark": {"type": "text", "text": "C3", "align": "left", "fontSize": 20}, "encoding": {"x": {"datum": -92.7}, "y": {"datum": 5.5}}},
   {"mark": {"type": "text", "text": "In TTX", "align": "left", "fontSize": 20}, "encoding": {"x": {"datum": 43.6}, "y": {"datum": 5.5}}},
   {"mark": {"type": "text", "text": "+ NiCl₂", "align": "left", "fontSize": 14}, "encoding": {"x": {"datum": 515.2}, "y": {"datum": -40}}},
   {"mark": {"type": "point", "shape": "M0,-1L0.35,1L-0.35,1Z", "filled": true, "color": "black", "size": 420, "angle": 231, "opacity": 1}, "encoding": {"x": {"datum": 306.7}, "y": {"datum": 4.1}}}
  ]}
 ], "spacing": 0, "bounds": "flush"}
], "spacing": 0}
]
}
